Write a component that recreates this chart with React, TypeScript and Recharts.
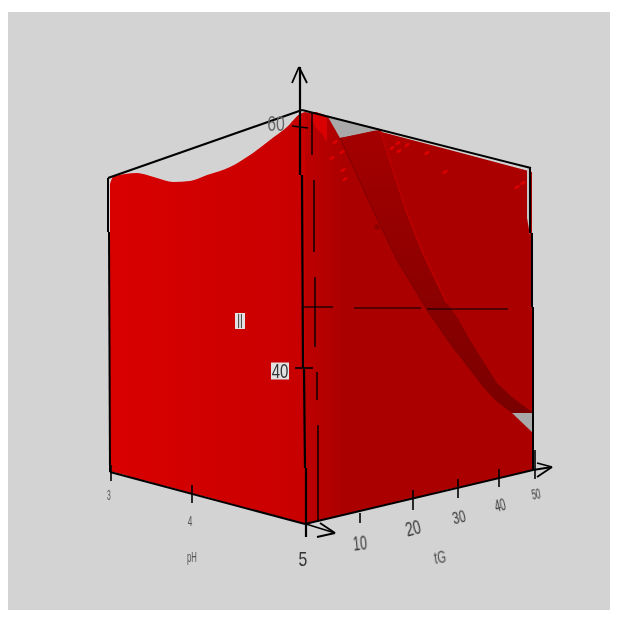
import { Area, ComposedChart, Scatter, XAxis, YAxis } from 'recharts'

type Band = [number, number, number]
type Seg = [number, number, number, number]

const LEFT_FACE: Band[] = [
  [110, 184, 471], [113, 177, 472], [125, 174, 475], [137, 173, 479], [147, 175, 481],
  [157, 178, 484], [173, 182, 488], [190, 181, 493], [207, 175, 497], [230, 167, 504],
  [250, 155, 509], [270, 140, 514], [287, 127, 519], [300, 114, 523], [305, 112, 524],
]
const RIGHT_FACE: Band[] = [
  [305, 112, 524], [327, 117, 519], [378, 131, 507], [450, 150, 489], [525, 170, 472], [532, 172, 470],
]
const SPIKE: Band[] = [[310, 112, 118], [316, 112, 128], [322, 114, 134], [327, 116, 142]]
const BACK_GAP: Band[] = [[328, 116, 117], [340, 119, 138], [380, 129, 130]]
const RIGHT_GAP: Band[] = [[527, 169, 218], [530, 168, 235]]
const LOWER_GAP: Band[] = [[512, 413, 413], [533, 413, 433]]
const FOLD: Band[] = [
  [340, 138, 138], [350, 136, 160], [373, 131, 210], [380, 130, 225], [393, 170, 252],
  [397, 180, 260], [407, 213, 277], [423, 253, 303], [427, 260, 310], [447, 303, 340],
  [457, 317, 353], [470, 340, 370], [483, 361, 387], [497, 383, 402], [512, 397, 413],
  [533, 413, 413],
]
const FOLD_RIDGE = [[380, 130], [393, 170], [407, 213], [423, 253], [447, 303]]
const FOLD_CREASE = [[340, 138], [373, 210], [397, 260], [427, 310], [457, 353]]
const LEFT_SPECKS = [
  [335, 142], [342, 152], [332, 158], [343, 170], [345, 179], [317, 122], [322, 128],
]
const RIGHT_SPECKS = [
  [398, 143], [399, 151], [407, 145], [392, 148], [427, 153], [445, 172], [523, 183], [517, 187],
]
const FOLD_SPOT = [[377, 227]]

const FRAME: Seg[] = [
  [108, 178, 302, 110], [302, 110, 531, 168], [530, 168, 530, 233], [532, 233, 532, 307],
  [533, 307, 533, 470], [108, 178, 108, 232], [109, 232, 110, 472], [110, 472, 305, 524],
  [305, 524, 533, 470],
]
const CENTRE_EDGE: Seg[] = [[300, 67, 300, 175], [302, 175, 303, 368], [304, 368, 305, 468], [306, 468, 306, 537]]
const INNER_EDGE: Seg[] = [
  [312, 112, 312, 155], [314, 180, 314, 252], [315, 277, 315, 347], [317, 372, 317, 400], [318, 425, 318, 522],
]
const CROSS: Seg[] = [[303, 307, 333, 307], [354, 308, 421, 308], [427, 309, 508, 309]]
const VALUE_TICKS: Seg[] = [[292, 126, 308, 128], [295, 368, 313, 368]]
const BOTTOM_TICKS: Seg[] = [
  [111, 465, 111, 481], [192, 485, 192, 503], [360, 513, 360, 523], [413, 490, 413, 510],
  [458, 479, 458, 498], [499, 469, 499, 487], [535, 450, 535, 479],
]
const ARROWS: Seg[] = [
  [292, 83, 299, 67], [299, 67, 307, 83],
  [306, 524, 335, 533], [317, 537, 335, 533], [320, 523, 335, 533],
  [533, 470, 552, 467], [537, 477, 552, 467], [537, 463, 552, 467],
]

const LABELS = ['3', '4', '5', 'pH', '10', '20', '30', '40', '50', 'tG', '60', '40', 'II']
const LABEL_X = [109, 190, 303, 192, 360, 413, 459, 500, 536, 440, 276, 280, 240]
const LABEL_Y = [495, 521, 558, 557, 543, 528, 517, 505, 494, 557, 123, 371, 321]

const LABEL_LOOK = [
  { size: 15, scaleX: 0.45, angle: 0, fill: '#555' },
  { size: 15, scaleX: 0.55, angle: 0, fill: '#555' },
  { size: 21, scaleX: 0.75, angle: 0, fill: '#333' },
  { size: 14, scaleX: 0.55, angle: 0, fill: '#555' },
  { size: 20, scaleX: 0.62, angle: -6, fill: '#333' },
  { size: 20, scaleX: 0.68, angle: -14, fill: '#333' },
  { size: 17, scaleX: 0.68, angle: -14, fill: '#333' },
  { size: 16, scaleX: 0.6, angle: -14, fill: '#333' },
  { size: 15, scaleX: 0.52, angle: -10, fill: '#333' },
  { size: 16, scaleX: 0.7, angle: -8, fill: '#444' },
  { size: 22, scaleX: 0.72, angle: 0, fill: '#666' },
  { size: 20, scaleX: 0.75, angle: 0, fill: '#333', bg: [18, 17] },
  { size: 20, scaleX: 0.5, angle: 0, fill: '#333', bg: [10, 16] },
]

const bandRows = (rows: Band[]) => rows.map(([x, lo, hi]) => ({ x, range: [lo, hi] }))
const pointRows = (rows: number[][]) => rows.map(([x, y]) => ({ x, y }))
const labelRows = LABELS.map((text, i) => ({ x: LABEL_X[i], y: LABEL_Y[i], text, look: LABEL_LOOK[i] }))

const noDot = () => <g />

function face(rows: Band[], fill: string, key: string, curve: any = 'linear') {
  return (
    <Area
      key={key}
      data={bandRows(rows)}
      dataKey="range"
      type={curve}
      fill={fill}
      fillOpacity={1}
      stroke="none"
      dot={false}
      activeDot={false}
      isAnimationActive={false}
    />
  )
}

function lines(segs: Seg[], width: number, key: string, color = '#000') {
  return segs.map((s, i) => (
    <Scatter
      key={`${key}${i}`}
      data={[{ x: s[0], y: s[1] }, { x: s[2], y: s[3] }]}
      dataKey="y"
      line={{ stroke: color, strokeWidth: width }}
      shape={noDot}
      isAnimationActive={false}
    />
  ))
}

function Speck(props: any) {
  return <ellipse cx={props.cx} cy={props.cy} rx={3} ry={1.4} fill="#dd0000" transform={`rotate(-30 ${props.cx} ${props.cy})`} />
}

function LabelMark(props: any) {
  const { cx, cy, payload } = props
  const { look, text } = payload
  return (
    <g transform={`translate(${cx},${cy}) rotate(${look.angle}) scale(${look.scaleX},1)`} style={{ filter: 'blur(0.4px)' }}>
      {look.bg && (
        <rect x={-look.bg[0] / 2 / look.scaleX} y={-look.bg[1] / 2} width={look.bg[0] / look.scaleX} height={look.bg[1]} fill="#e2e2e2" />
      )}
      <text textAnchor="middle" dy="0.36em" fontFamily="Liberation Sans" fontSize={look.size} fill={look.fill}>
        {text}
      </text>
    </g>
  )
}

export default function App() {
  return (
    <div style={{ position: 'absolute', left: 0, top: 0, width: 618, height: 623, background: '#fff' }}>
      <div style={{ position: 'absolute', left: 8, top: 12, width: 602, height: 598, background: '#d3d3d3' }} />
      <div style={{ position: 'absolute', left: 0, top: 0 }}>
        <ComposedChart width={618} height={623} margin={{ top: 0, right: 0, bottom: 0, left: 0 }}>
          <defs>
            <linearGradient id="leftFace" x1="0" y1="0" x2="1" y2="0">
              <stop offset="0%" stopColor="#d90000" />
              <stop offset="100%" stopColor="#c80000" />
            </linearGradient>
            <linearGradient id="rightFace" x1="0" y1="0" x2="1" y2="0">
              <stop offset="0%" stopColor="#bd0000" />
              <stop offset="18%" stopColor="#aa0000" />
              <stop offset="100%" stopColor="#aa0000" />
            </linearGradient>
            <linearGradient id="fold" x1="0" y1="0" x2="0" y2="1">
              <stop offset="0%" stopColor="#a40000" />
              <stop offset="100%" stopColor="#7a0000" />
            </linearGradient>
          </defs>
          <XAxis type="number" dataKey="x" domain={[0, 618]} hide allowDataOverflow />
          <YAxis type="number" domain={[0, 623]} reversed hide allowDataOverflow />
          {face(LEFT_FACE, 'url(#leftFace)', 'left', 'monotoneX')}
          {face(RIGHT_FACE, 'url(#rightFace)', 'right')}
          {face(SPIKE, '#d80000', 'spike')}
          {face(BACK_GAP, '#a9a9a9', 'back')}
          {face(RIGHT_GAP, '#c4c4c4', 'rgap')}
          {face(FOLD, 'url(#fold)', 'fold')}
          {face(LOWER_GAP, '#a9a9a9', 'lower')}
          <Scatter data={pointRows(FOLD_RIDGE)} dataKey="y" line={{ stroke: '#b80000', strokeWidth: 2 }} shape={noDot} isAnimationActive={false} />
          <Scatter data={pointRows(FOLD_CREASE)} dataKey="y" line={{ stroke: '#800000', strokeWidth: 1 }} shape={noDot} isAnimationActive={false} />
          <Scatter data={pointRows(LEFT_SPECKS)} dataKey="y" shape={Speck} isAnimationActive={false} />
          <Scatter data={pointRows(RIGHT_SPECKS)} dataKey="y" shape={Speck} isAnimationActive={false} />
          <Scatter
            data={pointRows(FOLD_SPOT)}
            dataKey="y"
            shape={(p: any) => <circle cx={p.cx} cy={p.cy} r={2.5} fill="#8c0000" />}
            isAnimationActive={false}
          />
          {lines(FRAME, 2, 'frame')}
          {lines(CENTRE_EDGE, 2.2, 'centre')}
          {lines(INNER_EDGE, 1.4, 'inner')}
          {lines(CROSS, 1.2, 'cross')}
          {lines(VALUE_TICKS, 1.6, 'vtick')}
          {lines(BOTTOM_TICKS, 1.6, 'btick')}
          {lines(ARROWS, 1.8, 'arrow')}
          <Scatter data={labelRows} dataKey="y" shape={LabelMark} isAnimationActive={false} />
        </ComposedChart>
      </div>
    </div>
  )
}
